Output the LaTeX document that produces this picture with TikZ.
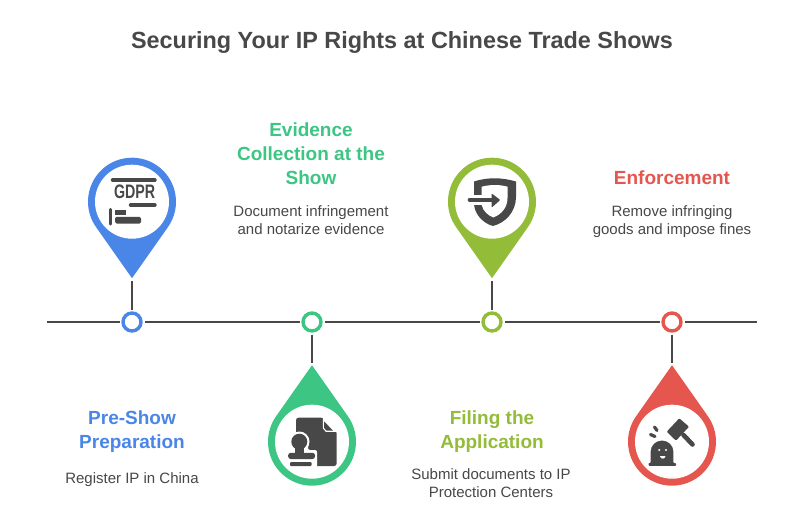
\documentclass[tikz,border=0pt]{standalone}
\usepackage{graphicx}
\usepackage{fontspec}
\setmainfont{Liberation Sans}
\definecolor{ink}{HTML}{484848}
\definecolor{cblue}{HTML}{4A86E8}
\definecolor{cgreen}{HTML}{3CC583}
\definecolor{colive}{HTML}{93BC38}
\definecolor{cred}{HTML}{E5564F}
\tikzset{
  x=1pt,y=-1pt,
  titletext/.style={font=\fontsize{23.4}{28}\selectfont\bfseries,text=ink,inner sep=0pt},
  headtext/.style={font=\fontsize{19}{24}\selectfont\bfseries,align=center,inner sep=0pt},
  bodytext/.style={font=\fontsize{15}{18}\selectfont,text=ink,align=center,inner sep=0pt},
  dot/.style={circle,draw=#1,line width=3.4pt,fill=white,minimum size=18pt,inner sep=0pt,outer sep=3.5pt},
  axis/.style={draw=ink,line width=1.7pt},
  stem/.style={draw=ink,line width=1.7pt,shorten >=2.5pt},
  stroke/.style={draw=ink,line cap=round,line width=#1},
}
\newcommand{\pinshape}[4]{% x, y, rotate, colour
  \begin{scope}[shift={(#1,#2)},rotate=#3]
    \fill[#4] (0,76.5) -- (35:44) arc[start angle=35,end angle=-215,radius=44] -- cycle;
    \fill[white] (0,0) circle[radius=37];
  \end{scope}}
\begin{document}
\begin{tikzpicture}
\useasboundingbox[fill=white] (0,0) rectangle (804,527);
\node[titletext] (title) at (402,43) {Securing Your IP Rights at Chinese Trade Shows};

% timeline
\coordinate (start) at (47,322);
\coordinate (stop) at (757,322);
\node[dot=cblue] (n1) at (132,322) {};
\node[dot=cgreen] (n2) at (312,322) {};
\node[dot=colive] (n3) at (492,322) {};
\node[dot=cred] (n4) at (672,322) {};
\draw[axis] (start) -- (n1);
\draw[axis] (n1) -- (n2);
\draw[axis] (n2) -- (n3);
\draw[axis] (n3) -- (n4);
\draw[axis] (n4) -- (stop);

% pins
\pinshape{132}{201.7}{0}{cblue}
\pinshape{312}{441.7}{180}{cgreen}
\pinshape{492}{201.7}{0}{colive}
\pinshape{672}{441.7}{180}{cred}
\coordinate (t1) at (132,278.2);
\coordinate (t2) at (312,365.2);
\coordinate (t3) at (492,278.2);
\coordinate (t4) at (672,365.2);
\draw[stem] (n1) -- (t1);
\draw[stem] (n2) -- (t2);
\draw[stem] (n3) -- (t3);
\draw[stem] (n4) -- (t4);

% GDPR icon
\draw[stroke=3.4pt] (112.5,180) -- (155,180);
\node[font=\fontsize{15}{15}\selectfont\bfseries,text=ink,inner sep=0pt] (gdpr) at (134.7,192) {\scalebox{.95}[1.3]{GDPR}};
\draw[stroke=3.4pt] (130.5,205) -- (155,205);
\draw[stroke=3.4pt] (110.3,209.5) -- (110.3,224);
\fill[ink] (115,210) rectangle (125.5,215);
\fill[ink,rounded corners=1.5pt] (115,216.8) -- (141,216.8) -- (141,223.5) -- (115,223.5) -- cycle;

% document & stamp icon
\fill[ink,rounded corners=2.5pt] (296,417.7) -- (323.5,417.7) -- (336.7,431.5) -- (336.7,466) -- (296,466) -- cycle;
\fill[white] (323.5,417) -- (338,417) -- (338,431.5) -- (334,431.5) -- (323.5,420.5) -- cycle;
\draw[white,line width=1.1pt] (323.3,418) -- (323.3,428) -- (326,431.2) -- (337.5,431.2);
\fill[white,rounded corners=2pt] (286,450) -- (291,450) -- (291,436) -- (308,436) -- (308,450) -- (317,450) -- (317,468) -- (286,468) -- cycle;
\fill[white] (299.3,441.7) circle[radius=10.2];
\fill[ink] (299.3,441.7) circle[radius=8];
\fill[ink] (295,445) rectangle (303.6,454);
\fill[ink,rounded corners=2.5pt] (288.2,452.8) rectangle (315,459);
\fill[ink,rounded corners=1pt] (290,462) rectangle (311.7,466);

% shield icon
\fill[ink] (474,181.5) .. controls (482,179) and (488,178.3) .. (495,178.3) .. controls (502,178.3) and (509,179.5) .. (516,181.5) -- (516,197) .. controls (516,212) and (505,223) .. (493,226) .. controls (482,223) and (474,213) .. (474,203) -- cycle;
\fill[white] (481.7,186.7) .. controls (486,185.5) and (491,185) .. (495,185) .. controls (499,185) and (503,185.5) .. (507.5,186.7) -- (507.5,198) .. controls (507.5,208) and (501,214.5) .. (493.3,217.5) .. controls (488,215.5) and (483,211) .. (481.7,205) -- cycle;
\fill[white] (472,195) rectangle (482,205);
\draw[stroke=3.6pt] (469.5,200) -- (492,200);
\fill[ink,rounded corners=1pt] (491.5,193.3) -- (500.3,200) -- (491.5,207.7) -- cycle;

% gavel icon
\fill[ink,rounded corners=1pt] (666.7,431.7) -- (679.3,418.3) -- (689,426.7) -- (676,440.7) -- cycle;
\draw[stroke=4.6pt] (683.5,435) -- (692.5,444.5);
\draw[stroke=3.2pt] (654.5,427) -- (657,430.5);
\draw[stroke=3.2pt] (650.5,434.5) -- (655,436.5);
\fill[ink,rounded corners=.8pt] (648.5,465.8) -- (648.5,463) -- (650.7,463) -- (650.7,452) .. controls (650.7,445.5) and (656,440.7) .. (662,440.7) .. controls (668,440.7) and (673.3,445.5) .. (673.3,452) -- (673.3,463) -- (676,463) -- (676,465.8) -- cycle;
\fill[white] (659.3,450) circle[radius=1.1];
\fill[white] (666,450) circle[radius=1.1];
\fill[white] (660,456.2) .. controls (660.5,459.5) and (665,459.5) .. (665.5,456.2) -- cycle;

% labels
\node[headtext,text=cblue] (h1) at (132,432) {\strut Pre-Show\\\strut Preparation};
\node[bodytext] (b1) at (132,480) {\strut Register IP in China};
\node[headtext,text=cgreen] (h2) at (311,156) {\strut Evidence\\\strut Collection at the\\\strut Show};
\node[bodytext] (b2) at (311,222) {\strut Document infringement\\\strut and notarize evidence};
\node[headtext,text=colive] (h3) at (492,432) {\strut Filing the\\\strut Application};
\node[bodytext] (b3) at (491,485) {\strut Submit documents to IP\\\strut Protection Centers};
\node[headtext,text=cred] (h4) at (672,180) {\strut Enforcement};
\node[bodytext] (b4) at (672,222) {\strut Remove infringing\\\strut goods and impose fines};
\end{tikzpicture}
\end{document}
